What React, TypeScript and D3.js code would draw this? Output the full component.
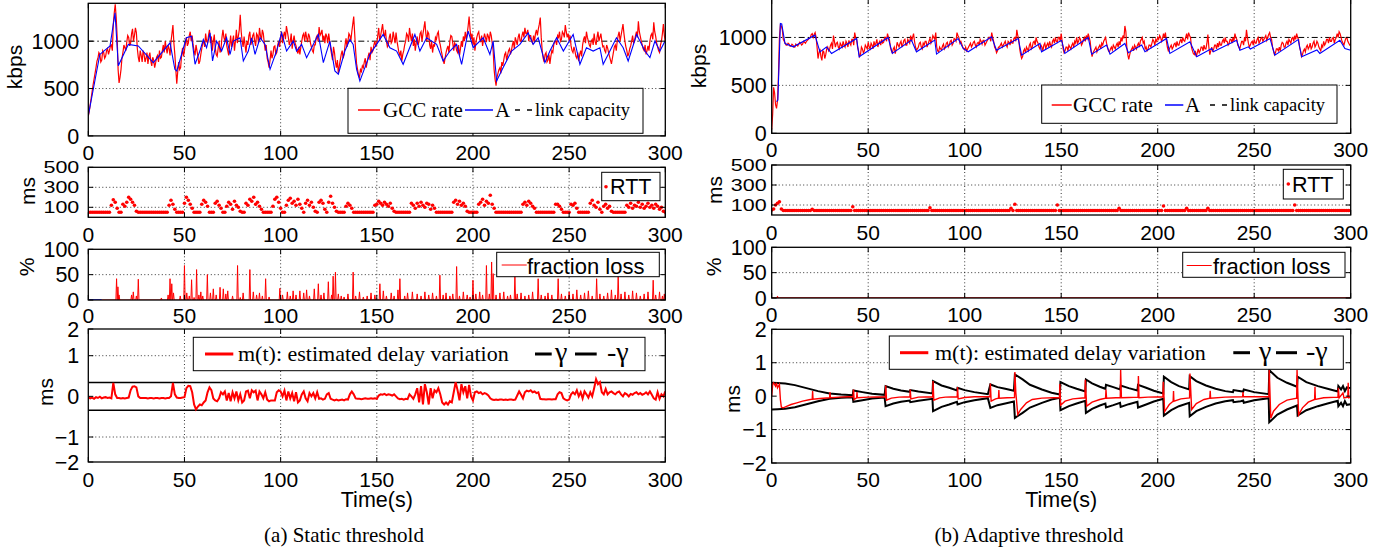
import React from "react";
import * as d3 from "d3";

type Pt = [number, number];

// ---------------- data ----------------
const timeTicks = [0, 50, 100, 150, 200, 250, 300];
const rateTicks = [0, 500, 1000];
const rttTicks = [100, 300, 500];
const lossTicks = [0, 50, 100];
const mtTicks = [-2, -1, 0, 1, 2];
const linkCapacity = 1000;
const staticGamma = 0.34;
const STEP = 1; // seconds between samples (RTT, m(t))
const RATE_STEP = 0.5; // seconds between GCC-rate samples

// (a) static threshold: GCC rate (kbps), one value per half second
const staticRate = [
  210, 260, 330, 400, 470, 540, 600, 660, 720, 790, 820, 880, 860, 780, 800, 900, 880, 820, 840, 900,
  920, 860, 900, 950, 960, 900, 1180, 1300, 1390, 1250, 1050, 700, 560, 620, 700, 820, 880, 960, 930, 900,
  990, 1060, 1040, 950, 980, 1080, 1130, 1000, 1060, 1140, 1090, 920, 830, 780, 900, 850, 780, 900, 860, 780,
  820, 880, 760, 840, 880, 790, 740, 830, 800, 720, 770, 830, 850, 780, 900, 820, 830, 900, 960, 880,
  1000, 930, 870, 960, 920, 850, 1000, 1080, 1170, 980, 860, 700, 550, 680, 780, 700, 720, 850, 930, 840,
  900, 980, 1040, 950, 980, 1060, 1100, 1000, 1060, 960, 900, 850, 960, 900, 840, 760, 790, 860, 920, 980,
  1000, 940, 1080, 1000, 980, 1060, 1120, 980, 1050, 900, 1000, 1070, 930, 860, 840, 920, 1000, 880, 920, 1040,
  1120, 1040, 1000, 1080, 950, 900, 850, 960, 1060, 940, 1000, 1060, 900, 1000, 1120, 980, 1050, 1120, 1280, 1100,
  1000, 940, 1050, 960, 880, 1000, 960, 1060, 1100, 960, 1000, 1060, 1080, 1000, 950, 1080, 1060, 980, 1140, 1060,
  1010, 1120, 1080, 980, 900, 960, 820, 780, 720, 800, 900, 820, 860, 940, 950, 860, 880, 960, 1000, 940,
  1050, 1100, 980, 1060, 1100, 1020, 1160, 1100, 1040, 960, 1000, 1080, 920, 1000, 1060, 980, 950, 900, 870, 940,
  860, 940, 1000, 1060, 1080, 1000, 1100, 1040, 990, 1080, 1050, 980, 940, 900, 880, 960, 960, 1040, 1060, 1000,
  1150, 1060, 1080, 1120, 1000, 1060, 980, 1080, 1050, 980, 1080, 1000, 920, 860, 800, 940, 880, 780, 720, 800,
  660, 740, 800, 860, 900, 820, 860, 960, 1030, 940, 1000, 1080, 1060, 1000, 1100, 1180, 1260, 1080, 900, 760,
  700, 640, 620, 700, 680, 740, 720, 780, 820, 720, 780, 840, 880, 800, 940, 880, 900, 960, 1000, 940,
  980, 1060, 1140, 1000, 1060, 1120, 1180, 1080, 1050, 1120, 1000, 940, 960, 1040, 1080, 980, 1000, 1100, 1040, 980,
  1090, 1000, 940, 880, 850, 900, 790, 860, 900, 960, 1000, 1080, 1060, 1000, 1140, 1060, 1000, 1080, 950, 1020,
  900, 980, 1050, 960, 1000, 1080, 1100, 1000, 1080, 1140, 1210, 1080, 1000, 1100, 1080, 960, 920, 1000, 880, 960,
  950, 1040, 1020, 1080, 1100, 1000, 960, 900, 850, 800, 760, 820, 880, 920, 950, 880, 1000, 1060, 1050, 980,
  900, 980, 960, 900, 880, 960, 850, 920, 1000, 940, 1050, 1000, 1100, 1020, 1080, 1160, 1260, 1120, 1020, 1080,
  960, 1040, 900, 980, 1040, 1080, 1100, 1020, 1000, 1060, 950, 1020, 1080, 1040, 990, 1080, 1050, 1000, 1100, 1060,
  980, 900, 700, 600, 530, 620, 660, 700, 720, 660, 780, 740, 800, 860, 880, 800, 850, 900, 920, 860,
  900, 960, 1000, 920, 1040, 1000, 960, 1040, 1080, 1000, 1000, 1060, 1100, 1040, 1140, 1080, 1080, 1120, 1000, 1060,
  1060, 1000, 980, 1060, 1000, 1080, 1120, 1060, 1130, 1180, 1250, 1040, 900, 820, 780, 860, 880, 780, 800, 860,
  760, 840, 900, 880, 960, 1000, 1000, 960, 1060, 1040, 1100, 1000, 1020, 1100, 1080, 1040, 1170, 1100, 1040, 1080,
  1000, 1060, 950, 900, 880, 940, 900, 840, 820, 880, 790, 860, 900, 840, 960, 1020, 1050, 980, 1100, 1040,
  1000, 960, 940, 1000, 1020, 960, 1080, 1000, 960, 1040, 1100, 1000, 1040, 1080, 1000, 940, 950, 900, 880, 960,
  930, 880, 840, 800, 760, 820, 880, 940, 960, 900, 1000, 1060, 1100, 1000, 1060, 1120, 1180, 1080, 1000, 940,
  900, 840, 870, 920, 950, 1000, 1060, 980, 1000, 1060, 1100, 1040, 1210, 1100, 1050, 1000, 960, 920, 900, 960,
  860, 900, 950, 900, 1000, 1060, 1080, 1020, 1200, 1100, 1050, 980, 940, 900, 880, 960, 1000, 1080, 1180, 1060,
  1000,
];

// (a) A (kbps) as [time, value]
const staticA: Pt[] = [
  [0, 213], [6, 860], [11.3, 950], [13.9, 1300], [15.6, 740], [20.8, 966], [26, 950], [33.8, 773],
  [42.5, 983], [45, 703], [46, 686], [51, 1036], [53.7, 1053], [55.5, 756], [58, 896], [59.8, 1018],
  [61.5, 931], [63.3, 1088], [64.6, 791], [66.7, 1001], [69.3, 896], [71.9, 1036], [73.7, 861],
  [75.4, 1001], [78.9, 1036], [80.6, 791], [83.2, 896], [84.9, 1036], [86.7, 861], [89.3, 1036],
  [91.9, 966], [94.5, 703], [97.9, 896], [100.5, 1088], [103.1, 896], [106.6, 1001], [108.3, 896],
  [110.9, 966], [113.5, 826], [116.1, 931], [119.6, 1071], [122.2, 773], [125.6, 1000], [128.2, 686],
  [130, 651], [133.4, 896], [136, 1018], [137.7, 966], [139.5, 703], [141.2, 581], [143.8, 721],
  [146.4, 861], [149.9, 966], [153.3, 1071], [156.8, 931], [160.3, 896], [163.7, 756], [169.8, 1071],
  [172.4, 896], [175.9, 1036], [181.1, 966], [184.5, 791], [188, 896], [191.5, 966], [194.1, 756],
  [197.5, 1106], [200.1, 931], [205.3, 1036], [208.8, 861], [210.5, 1001], [212.3, 581], [215.7, 721],
  [220.1, 896], [224.4, 966], [228.7, 1088], [231.3, 966], [233.9, 1036], [237.4, 773], [240, 896],
  [243.5, 1036], [247, 896], [252.1, 1071], [255.6, 756], [259, 931], [262.5, 896], [266, 931],
  [267.7, 756], [271.2, 896], [274.6, 1036], [278.1, 931], [280.7, 791], [285.1, 1071], [289.4, 896],
  [292, 826], [294.6, 1001], [297.2, 896], [299.8, 1000],
];

// (a) RTT (ms), one value per second
const staticRtt = [
  50, 50, 50, 50, 50, 50, 50, 50, 50, 50,
  50, 50, 120, 175, 150, 90, 50, 50, 130, 110,
  150, 200, 180, 150, 120, 60, 50, 50, 50, 50,
  50, 50, 50, 50, 50, 50, 50, 50, 50, 50,
  50, 50, 120, 170, 130, 80, 50, 50, 50, 50,
  140, 200, 170, 130, 90, 50, 50, 50, 50, 130,
  170, 150, 110, 50, 50, 50, 140, 160, 120, 90,
  50, 50, 110, 150, 130, 80, 160, 120, 100, 60,
  50, 50, 140, 120, 180, 160, 200, 130, 150, 110,
  80, 50, 50, 50, 50, 50, 110, 180, 200, 150,
  90, 50, 50, 120, 170, 190, 140, 160, 120, 180,
  130, 90, 50, 140, 170, 120, 150, 100, 60, 50,
  150, 170, 140, 80, 50, 150, 210, 140, 100, 60,
  50, 50, 50, 50, 110, 140, 120, 90, 50, 50,
  50, 50, 50, 50, 50, 50, 50, 50, 50, 120,
  130, 160, 140, 120, 150, 130, 110, 140, 90, 60,
  50, 50, 50, 50, 50, 50, 50, 50, 140, 120,
  90, 140, 110, 150, 120, 100, 140, 130, 80, 120,
  90, 50, 50, 50, 50, 50, 50, 50, 50, 50,
  150, 170, 130, 160, 120, 140, 110, 60, 50, 50,
  50, 50, 50, 130, 150, 180, 120, 160, 140, 220,
  130, 90, 50, 50, 50, 50, 50, 50, 50, 50,
  50, 50, 50, 50, 50, 50, 130, 150, 120, 160,
  140, 110, 90, 50, 50, 50, 50, 50, 50, 50,
  50, 50, 50, 130, 130, 110, 80, 50, 50, 50,
  50, 130, 120, 140, 90, 50, 50, 50, 50, 50,
  50, 140, 170, 120, 100, 150, 80, 50, 110, 130,
  90, 110, 60, 50, 50, 50, 50, 50, 50, 50,
  120, 100, 140, 90, 120, 110, 150, 100, 130, 90,
  110, 140, 100, 120, 90, 130, 110, 80, 100, 60,
  50,
];

// (a) fraction loss (%): spikes as [time, peak]
const staticLossSpikes: Pt[] = [
  [14.7, 42], [15.4, 26], [16, 10], [22.5, 10], [23.4, 16], [25, 8], [26, 41], [38, 4], [41.5, 10],
  [42.5, 42], [43.4, 32], [44.3, 14], [47.8, 8], [50, 68], [51.2, 14], [52.5, 8], [53.7, 40], [55, 5],
  [56.3, 60], [57.5, 10], [58.5, 16], [59.5, 8], [61.9, 50], [63.5, 14], [65, 22], [66.5, 10], [68.5, 25],
  [70.2, 22], [71.5, 12], [72.5, 18], [75, 8], [77.6, 68], [79, 5], [80.5, 14], [84, 60], [85.8, 16],
  [87.5, 10], [89, 14], [90.5, 8], [92.2, 42], [94, 6], [99.6, 23], [101, 10], [103.5, 16], [105, 8],
  [106.5, 18], [108, 10], [110, 18], [112, 14], [113.5, 20], [115, 8], [117.5, 22], [119.6, 32],
  [121, 10], [122.5, 14], [124.8, 36], [126.5, 10], [127.3, 47], [128.5, 55], [130, 12], [131.5, 8],
  [133, 6], [135, 12], [137.7, 55], [139, 8], [141, 16], [143, 6], [145, 8], [147, 14], [149, 10],
  [151.6, 32], [153.4, 18], [155, 8], [157.5, 14], [159, 8], [161, 20], [162, 42], [164.5, 8],
  [166, 14], [168.5, 16], [171, 12], [173, 8], [175, 16], [177, 10], [179, 14], [181, 8], [182.8, 49],
  [184.5, 10], [186, 14], [188, 8], [189.5, 12], [191.5, 66], [193, 8], [195, 16], [197, 10],
  [198.5, 6], [200, 39], [201.5, 12], [203.5, 16], [205, 10], [207, 68], [208.5, 12], [209.7, 75],
  [210.5, 52], [212, 10], [214, 14], [216, 16], [218, 8], [219.5, 10], [221.8, 49], [223, 12],
  [225, 14], [227, 8], [229, 10], [231, 16], [233.9, 42], [235.5, 10], [237.5, 8], [239, 14],
  [241, 10], [244.3, 42], [246, 12], [248, 8], [250, 16], [252, 12], [254, 20], [256, 10], [258, 14],
  [260, 18], [262, 8], [264.3, 42], [266, 12], [268, 8], [270, 14], [272, 20], [274, 10], [275.5, 49],
  [277, 12], [279, 16], [281, 10], [283, 18], [285, 14], [287, 8], [289, 12], [291, 16], [293.7, 39],
  [295, 10], [297, 16], [298.5, 8], [299.5, 12],
];
const staticLossStart = 7; // red loss trace starts here; before it the blue trace sits at 0

// (a) m(t) (ms), one value per second
const staticMt = [
  -0.02, -0.05, -0.03, -0.06, -0.02, -0.04, -0.01, -0.05, -0.03, -0.02,
  -0.04, -0.03, -0.05, 0.33, 0.05, -0.04, -0.04, -0.05, -0.04, -0.05,
  -0.04, -0.03, 0.15, 0.24, 0.25, 0.22, 0.0, -0.04, -0.04, -0.04,
  -0.04, -0.05, -0.04, -0.04, -0.05, -0.04, -0.04, -0.05, -0.04, -0.04,
  -0.05, -0.04, -0.04, 0.0, 0.33, 0.05, -0.03, -0.04, -0.04, -0.03,
  -0.02, 0.2, 0.26, 0.25, 0.1, -0.2, -0.32, -0.25, -0.2, -0.22,
  -0.15, -0.1, 0.1, 0.22, 0.15, -0.05, -0.1, -0.12, -0.05, 0.1,
  0.05, 0.12, -0.1, 0.08, -0.12, 0.1, -0.05, 0.12, -0.1, 0.05,
  -0.15, -0.1, 0.12, 0.14, -0.05, 0.15, 0.1, 0.14, -0.1, 0.12,
  0.05, -0.05, 0.1, -0.08, -0.12, -0.1, -0.1, -0.1, 0.1, 0.15,
  0.12, 0.0, 0.14, -0.1, 0.12, -0.05, 0.08, -0.12, 0.1, -0.15,
  -0.1, 0.05, 0.12, -0.05, -0.12, 0.08, 0.0, 0.08, -0.05, 0.1,
  -0.06, -0.05, -0.08, -0.06, 0.05, 0.08, -0.06, -0.08, -0.1, -0.08,
  -0.1, -0.09, -0.08, -0.1, -0.07, -0.08, 0.05, 0.12, 0.05, -0.05,
  -0.06, -0.06, -0.07, -0.06, -0.05, -0.06, -0.06, -0.05, -0.06, -0.05,
  -0.06, 0.02, 0.05, 0.04, 0.06, 0.03, 0.05, 0.04, 0.02, 0.05,
  0.0, -0.05, -0.07, -0.06, -0.08, -0.06, -0.07, 0.05, 0.0, -0.06,
  0.05, 0.2, -0.15, 0.25, -0.2, 0.3, 0.1, -0.2, 0.2, -0.05,
  0.15, 0.1, 0.2, 0.05, -0.15, -0.2, -0.15, -0.2, -0.12, -0.15,
  0.1, 0.35, 0.15, -0.1, 0.3, 0.1, 0.25, -0.05, 0.28, 0.0,
  -0.1, 0.1, 0.12, 0.08, 0.1, 0.05, 0.08, 0.06, 0.02, -0.05,
  -0.08, -0.09, -0.08, -0.09, -0.08, -0.08, -0.09, -0.08, -0.09, -0.08,
  -0.08, -0.09, -0.08, 0.02, 0.12, 0.04, -0.05, 0.1, 0.14, 0.12,
  0.15, 0.1, 0.12, 0.08, 0.1, -0.06, -0.07, -0.07, -0.08, -0.07,
  -0.07, -0.08, -0.07, -0.07, 0.05, 0.1, 0.08, -0.05, -0.08, -0.1,
  -0.08, 0.05, 0.1, 0.05, 0.15, 0.0, 0.1, -0.05, 0.12, 0.05,
  -0.03, 0.1, 0.0, 0.2, 0.42, 0.3, 0.35, 0.1, 0.05, 0.18,
  0.05, 0.1, 0.12, 0.08, 0.05, 0.1, 0.12, 0.05, 0.0, 0.08,
  0.05, 0.0, 0.06, 0.04, 0.08, 0.1, 0.05, 0.08, 0.04, 0.06,
  0.1, 0.05, 0.12, 0.04, -0.05, -0.08, 0.1, -0.06, 0.05, 0.0,
  0.12,
];

// (b) adaptive threshold: GCC rate (kbps), one value per half second
const adaptiveRate = [
  40, 200, 480, 420, 300, 260, 340, 600, 1000, 1130, 1120, 1080, 980, 960, 940, 920, 920, 940, 930, 910,
  910, 930, 920, 900, 900, 930, 920, 910, 930, 950, 940, 920, 930, 960, 950, 940, 960, 970, 980, 990,
  1000, 1030, 1040, 1000, 1030, 1050, 1000, 900, 780, 840, 880, 800, 760, 860, 850, 780, 820, 880, 900, 860,
  880, 920, 940, 880, 1020, 960, 900, 940, 950, 900, 880, 940, 920, 900, 960, 920, 900, 960, 940, 900,
  970, 940, 920, 980, 980, 920, 1050, 1000, 980, 900, 860, 800, 820, 900, 880, 840, 860, 920, 900, 880,
  950, 900, 880, 940, 920, 880, 960, 920, 940, 980, 900, 940, 960, 920, 980, 940, 950, 1000, 1000, 960,
  1040, 1000, 980, 900, 860, 840, 880, 900, 830, 880, 950, 920, 900, 940, 960, 900, 930, 970, 980, 920,
  920, 980, 960, 940, 1020, 960, 1000, 1040, 960, 900, 870, 880, 900, 940, 950, 900, 880, 940, 920, 960,
  960, 900, 930, 960, 990, 940, 970, 1020, 1000, 980, 1050, 900, 860, 850, 900, 880, 870, 910, 930, 880,
  900, 940, 950, 900, 920, 960, 970, 920, 940, 990, 980, 960, 1050, 1020, 1000, 940, 960, 930, 900, 880,
  870, 900, 860, 880, 900, 920, 940, 900, 920, 950, 960, 920, 900, 940, 950, 920, 980, 960, 930, 970,
  970, 920, 940, 960, 980, 1000, 1000, 960, 1050, 1000, 960, 900, 880, 840, 860, 900, 900, 920, 940, 900,
  920, 940, 960, 920, 900, 960, 950, 920, 980, 940, 940, 990, 1000, 960, 1080, 1020, 980, 880, 820, 780,
  800, 860, 880, 840, 900, 880, 860, 920, 940, 880, 900, 950, 960, 920, 1000, 960, 940, 900, 880, 920,
  900, 860, 920, 940, 880, 920, 940, 900, 960, 920, 900, 960, 980, 940, 1000, 960, 950, 1000, 1000, 960,
  1040, 960, 880, 840, 860, 900, 900, 860, 920, 900, 880, 920, 940, 900, 960, 940, 1000, 940, 960, 1000,
  980, 920, 940, 980, 1000, 960, 1020, 990, 1040, 1000, 960, 860, 800, 840, 860, 880, 900, 850, 880, 900,
  920, 880, 940, 920, 960, 980, 1000, 940, 900, 860, 850, 880, 900, 870, 920, 900, 880, 920, 940, 900,
  960, 920, 1000, 960, 1020, 990, 1120, 1060, 900, 820, 770, 820, 860, 880, 900, 860, 920, 900, 880, 920,
  940, 900, 960, 980, 1000, 940, 960, 880, 900, 860, 880, 920, 920, 900, 940, 980, 960, 920, 980, 960,
  1000, 980, 1020, 1000, 960, 990, 1040, 1000, 1050, 960, 900, 860, 880, 900, 920, 880, 900, 930, 940, 900,
  960, 920, 920, 960, 980, 940, 1000, 970, 960, 1000, 1040, 980, 1050, 1020, 1000, 900, 860, 830, 820, 860,
  800, 840, 880, 840, 860, 900, 900, 860, 920, 880, 880, 940, 1030, 900, 820, 860, 900, 860, 880, 920,
  920, 880, 940, 900, 960, 920, 920, 960, 980, 940, 1000, 960, 960, 920, 940, 980, 980, 940, 1000, 960,
  1040, 1000, 980, 920, 900, 880, 920, 960, 960, 920, 1000, 960, 1080, 1000, 940, 900, 920, 950, 960, 920,
  980, 940, 940, 980, 1000, 940, 960, 990, 1000, 960, 980, 1000, 1020, 970, 1000, 1030, 1050, 1000, 980, 900,
  860, 820, 840, 880, 880, 860, 900, 860, 920, 950, 940, 900, 900, 940, 960, 920, 980, 960, 940, 990,
  1000, 960, 1020, 980, 1040, 1000, 980, 900, 860, 800, 820, 860, 880, 850, 900, 920, 880, 900, 940, 880,
  900, 940, 960, 900, 920, 960, 940, 900, 880, 860, 920, 900, 960, 920, 940, 980, 980, 940, 1000, 960,
  960, 990, 1000, 940, 980, 1000, 1040, 1000, 1060, 1040, 1000, 960, 940, 920, 960, 990, 1000, 960, 940, 920,
  930,
];

// (b) A (kbps) as [time, value]
const adaptiveA: Pt[] = [
  [2.5, 330], [3.2, 347], [4.5, 1145], [5.2, 1140], [6.9, 937], [11.2, 902], [22.4, 1024], [25, 850],
  [28.4, 900], [31, 833], [44, 989], [45.3, 798], [60.3, 1000], [62.5, 833], [72.4, 972], [75, 850],
  [84.5, 972], [85.4, 826], [96.6, 989], [99.2, 885], [101.8, 850], [113.9, 1006], [116.5, 867],
  [127.7, 989], [129.5, 815], [139, 937], [139.8, 850], [150.2, 971], [151.9, 833], [164, 1000],
  [165.8, 826], [173.5, 920], [175.3, 826], [183, 937], [184.8, 840], [191.7, 920], [193.4, 850],
  [204.6, 989], [206.3, 833], [216.7, 954], [220.2, 798], [228, 885], [228.8, 850], [240.9, 971],
  [242.6, 867], [247, 902], [248, 880], [258.2, 989], [260.7, 815], [272.8, 978], [274.6, 798],
  [282.5, 870], [284, 833], [294.4, 971], [297, 885], [300, 867],
];

// (b) RTT (ms), one value per second
const adaptiveRtt = [
  50, 60, 100, 118, 132, 60, 45, 45, 45, 45,
  45, 45, 45, 45, 45, 45, 45, 45, 45, 45,
  45, 57, 45, 45, 45, 45, 45, 45, 45, 45,
  45, 45, 45, 45, 45, 45, 45, 45, 45, 45,
  45, 45, 83, 45, 45, 45, 45, 45, 45, 45,
  45, 45, 45, 45, 45, 45, 45, 45, 45, 45,
  45, 45, 45, 45, 45, 45, 45, 45, 45, 45,
  45, 45, 45, 45, 45, 45, 45, 45, 45, 45,
  45, 45, 73, 45, 45, 45, 45, 45, 45, 45,
  45, 45, 45, 45, 45, 45, 45, 45, 45, 45,
  45, 45, 45, 45, 45, 45, 45, 45, 45, 45,
  45, 45, 45, 45, 45, 45, 45, 45, 45, 45,
  45, 45, 45, 45, 67, 45, 107, 45, 45, 45,
  45, 45, 45, 45, 45, 45, 45, 45, 45, 45,
  45, 45, 45, 45, 45, 45, 45, 45, 100, 45,
  45, 45, 45, 45, 45, 45, 45, 45, 45, 45,
  45, 45, 45, 45, 45, 45, 45, 45, 45, 45,
  45, 45, 45, 45, 45, 45, 45, 45, 45, 45,
  67, 45, 45, 45, 45, 45, 45, 45, 45, 45,
  45, 45, 45, 45, 45, 45, 45, 45, 45, 45,
  45, 45, 45, 90, 45, 45, 45, 45, 45, 45,
  45, 45, 45, 45, 45, 67, 45, 45, 45, 45,
  45, 45, 45, 45, 45, 45, 67, 45, 45, 45,
  45, 45, 45, 45, 45, 45, 45, 45, 45, 45,
  45, 45, 45, 45, 45, 45, 45, 45, 45, 45,
  45, 45, 45, 45, 45, 45, 45, 45, 45, 45,
  45, 45, 45, 45, 45, 45, 45, 45, 45, 45,
  45, 100, 45, 45, 45, 45, 45, 45, 45, 45,
  45, 45, 45, 45, 45, 45, 45, 45, 45, 45,
  45, 45, 45, 45, 45, 45, 45, 45, 45, 45,
  45,
];

// (b) fraction loss (%): spikes as [time, peak]
const adaptiveLossSpikes: Pt[] = [[3, 2]];

// (b) adaptive threshold gamma(t) (ms) as [time, value]; the lower curve is -gamma
const adaptiveGamma: Pt[] = [
  [0, 0.4], [3, 0.39], [7, 0.38], [12, 0.33], [18, 0.24], [24, 0.15], [30, 0.08], [36, 0.05], [42, 0.03],
  [42.3, 0.17], [47, 0.12], [52, 0.07], [58.5, 0.04],
  [59, 0.3], [63, 0.22], [67, 0.17], [71.5, 0.13],
  [71.8, 0.18], [76, 0.14], [83.3, 0.08],
  [83.6, 0.45], [88, 0.32], [92, 0.25], [96, 0.17],
  [96.3, 0.25], [100, 0.18], [105, 0.12], [112, 0.06],
  [113.3, 0.35], [117, 0.27], [121, 0.22], [125.5, 0.16],
  [126, 0.65], [130, 0.5], [133.8, 0.34], [140, 0.2], [145, 0.1], [149.3, 0.05],
  [149.6, 0.42], [154, 0.3], [158, 0.22], [162.5, 0.14],
  [162.8, 0.5], [166, 0.38], [170, 0.28], [172.9, 0.22],
  [173.2, 0.34], [177, 0.27], [180.5, 0.2],
  [180.8, 0.32], [185, 0.24], [189.5, 0.17],
  [189.8, 0.34], [194, 0.25], [198, 0.16], [202.9, 0.08],
  [203.2, 0.58], [207, 0.42], [211, 0.3], [216.3, 0.2],
  [216.6, 0.6], [220, 0.45], [225, 0.32], [230, 0.22], [235, 0.15], [239, 0.12],
  [239.3, 0.18], [243, 0.15], [244.3, 0.13], [244.6, 0.2], [250, 0.12], [257.5, 0.06],
  [257.8, 0.78], [262, 0.55], [267, 0.4], [272.2, 0.28],
  [272.5, 0.58], [277, 0.42], [283, 0.3], [288, 0.22], [293.3, 0.14],
  [293.6, 0.3], [295, 0.2], [296, 0.3], [297, 0.15], [298, 0.26], [300, 0.24],
];

// (b) m(t) (ms) as [time, value]
const adaptiveMt: Pt[] = [
  [0, 0.0], [0.5, 0.35], [1, 0.4], [2, 0.3], [2.5, 0.4], [3, 0.25], [4, 0.35], [4.5, -0.1], [5, -0.33],
  [6, -0.35], [8, -0.3], [10, -0.25], [13, -0.2], [16, -0.15], [20, -0.1], [21, -0.09], [21.2, 0.15],
  [21.4, -0.09], [25, -0.07], [30, -0.05], [30.2, 0.12], [30.4, -0.05], [35, -0.03], [40, -0.02],
  [42.2, -0.02], [42.4, 0.2], [42.7, -0.1], [44, -0.05], [44.2, 0.12], [44.4, -0.05], [50, -0.03],
  [58.9, -0.02], [59.1, 0.32], [59.5, -0.12], [62, -0.06], [66, -0.03], [71.6, -0.02], [71.8, 0.2],
  [72.1, -0.08], [76, -0.03], [83.4, -0.02], [83.6, 0.45], [84, -0.12], [87, -0.05], [90, -0.03],
  [96.1, -0.02], [96.3, 0.27], [96.6, -0.08], [100, -0.04], [105, -0.02], [113.1, -0.02], [113.3, 0.38],
  [113.7, -0.15], [116, -0.08], [117.5, -0.06], [117.7, 0.18], [117.9, -0.06], [122, -0.05],
  [125.8, -0.04], [126, 0.72], [126.5, 0.1], [127.5, -0.55], [129, -0.4], [132, -0.2], [135, -0.1],
  [140, -0.06], [149.1, -0.04], [149.3, 0.36], [149.7, -0.27], [152, -0.15], [156, -0.08],
  [162.3, -0.05], [162.5, 0.49], [163.2, -0.3], [166, -0.18], [170, -0.1], [173, -0.06], [173.2, 0.2],
  [173.5, -0.06], [180.6, -0.04], [180.8, 0.78], [181.2, -0.05], [185, -0.04], [189.8, -0.03],
  [190, 0.6], [190.3, -0.05], [195, -0.03], [202.7, -0.02], [202.9, 0.43], [203.6, -0.46], [206, -0.25],
  [208, -0.15], [208.2, 0.15], [208.4, -0.15], [212, -0.08], [216.5, -0.05], [216.7, 0.68],
  [217.6, -0.4], [220, -0.22], [224, -0.1], [227, -0.06], [227.2, 0.16], [227.4, -0.06], [235, -0.03],
  [244, -0.02], [244.2, 0.12], [244.4, -0.02], [250, -0.02], [257.6, -0.02], [257.8, 0.78],
  [258.6, -0.66], [260, -0.45], [263, -0.25], [267, -0.12], [272, -0.06], [272.2, 0.78], [273, -0.56],
  [275, -0.35], [278, -0.18], [281.3, -0.1], [281.5, 0.28], [281.7, -0.1], [286, -0.05], [293.4, -0.03],
  [293.6, 0.25], [294, -0.05], [296, 0.1], [296.5, -0.05], [298.5, -0.03], [298.7, 0.4], [299, -0.05],
  [300, -0.03],
];

// ---------------- drawing ----------------
const SANS = "'Liberation Sans', Arial, Helvetica, sans-serif";
const SERIF = "'Liberation Serif', 'Times New Roman', serif";
const RED = "#ff0000";
const BLUE = "#0000ff";

type Lin = d3.ScaleLinear<number, number>;

interface PanelProps {
  id: string;
  x: Lin;
  y: Lin;
  yTicks: number[];
  gridY: number[];
  xLabelBaseline: number;
  labelGap: number;
  labelSquash?: number;
  children?: React.ReactNode;
}

const fmt = (v: number) => (v < 0 ? "\u2212" + Math.abs(v) : String(v));

function Panel({ id, x, y, yTicks, gridY, xLabelBaseline, labelGap, labelSquash = 1, children }: PanelProps) {
  const [x0, x1] = x.range();
  const yr = y.range();
  const top = Math.min(...yr);
  const bottom = Math.max(...yr);
  const tl = 5;
  return (
    <g>
      <defs>
        <clipPath id={id}>
          <rect x={x0} y={top} width={x1 - x0} height={bottom - top} />
        </clipPath>
      </defs>
      <rect x={x0} y={top} width={x1 - x0} height={bottom - top} fill="#fff" />
      {timeTicks.slice(1, -1).map((t) => (
        <line key={"gx" + t} x1={x(t)} x2={x(t)} y1={top} y2={bottom} stroke="#000" strokeWidth={0.8} strokeDasharray="1,2.5" />
      ))}
      {gridY.map((v) => (
        <line key={"gy" + v} x1={x0} x2={x1} y1={y(v)} y2={y(v)} stroke="#000" strokeWidth={0.8} strokeDasharray="1,2.5" />
      ))}
      <g clipPath={`url(#${id})`}>{children}</g>
      {timeTicks.map((t) => (
        <g key={"tx" + t}>
          <line x1={x(t)} x2={x(t)} y1={bottom} y2={bottom - tl} stroke="#000" strokeWidth={1} />
          <line x1={x(t)} x2={x(t)} y1={top} y2={top + tl} stroke="#000" strokeWidth={1} />
        </g>
      ))}
      {yTicks.map((v) => (
        <g key={"ty" + v}>
          <line x1={x0} x2={x0 + tl} y1={y(v)} y2={y(v)} stroke="#000" strokeWidth={1} />
          <line x1={x1} x2={x1 - tl} y1={y(v)} y2={y(v)} stroke="#000" strokeWidth={1} />
        </g>
      ))}
      <rect x={x0} y={top} width={x1 - x0} height={bottom - top} fill="none" stroke="#000" strokeWidth={1.3} />
      {timeTicks.map((t) => (
        <text key={"lx" + t} x={x(t)} y={xLabelBaseline} textAnchor="middle" fontFamily={SANS} fontSize={21} fill="#000">
          {t}
        </text>
      ))}
      {yTicks.map((v) => (
        <text
          key={"ly" + v}
          transform={`translate(${x0 - labelGap},${y(v)}) scale(1,${labelSquash})`}
          dy="0.36em"
          textAnchor="end"
          fontFamily={SANS}
          fontSize={21.5}
          fill="#000"
        >
          {fmt(v)}
        </text>
      ))}
    </g>
  );
}

function sampled(vals: number[], step: number): Pt[] {
  return vals.map((v, i) => [i * step, v] as Pt);
}

function spikePoints(spikes: Pt[], start: number, end: number): Pt[] {
  const pts: Pt[] = [[start, 0]];
  spikes.forEach(([t, v]) => {
    pts.push([t - 0.35, 0], [t, v], [t + 0.35, 0]);
  });
  pts.push([end, 0]);
  return pts;
}

function YLabel({ x, y, text }: { x: number; y: number; text: string }) {
  return (
    <text transform={`translate(${x},${y}) rotate(-90)`} textAnchor="middle" fontFamily={SANS} fontSize={21} fill="#000">
      {text}
    </text>
  );
}

interface ColumnGeom {
  x: Lin;
  rateY: Lin;
  rttY: Lin;
  lossY: Lin;
  mtY: Lin;
  xlab: [number, number, number, number];
  gap: number;
}

export default function App() {
  const xL = d3.scaleLinear().domain([0, 300]).range([88.3, 665.3]);
  const xR = d3.scaleLinear().domain([0, 300]).range([771.7, 1350.7]);

  const L: ColumnGeom = {
    x: xL,
    rateY: d3.scaleLinear().domain([0, 1400]).range([135.9, 3.3]),
    rttY: d3.scaleLinear().domain([0, 500]).range([217.3, 167.3]),
    lossY: d3.scaleLinear().domain([0, 100]).range([300, 249.3]),
    mtY: d3.scaleLinear().domain([-2, -1, 1, 2]).range([462, 437, 355.7, 329]),
    xlab: [159.5, 241.5, 323, 486.5],
    gap: 9,
  };
  const R: ColumnGeom = {
    x: xR,
    rateY: d3.scaleLinear().domain([0, 1400]).range([133.3, -0.9]),
    rttY: d3.scaleLinear().domain([0, 500]).range([215, 165]),
    lossY: d3.scaleLinear().domain([0, 100]).range([298, 247.3]),
    mtY: d3.scaleLinear().domain([-2, 2]).range([463, 329.3]),
    xlab: [156.5, 240, 321.5, 486.5],
    gap: 5,
  };

  const line = (x: Lin, y: Lin) =>
    d3
      .line<Pt>()
      .x((d) => x(d[0]))
      .y((d) => y(d[1]));

  const staticRatePts = sampled(staticRate, RATE_STEP);
  const adaptiveRatePts = sampled(adaptiveRate, RATE_STEP);
  const staticMtPts = sampled(staticMt, STEP);

  const rttDots = (col: ColumnGeom, vals: number[], key: string) =>
    sampled(vals, STEP).map(([t, v], i) => <circle key={key + i} cx={col.x(t)} cy={col.rttY(v)} r={1.8} fill={RED} />);

  const capacityLine = (col: ColumnGeom) => (
    <line
      x1={col.x(0)}
      x2={col.x(300)}
      y1={col.rateY(linkCapacity)}
      y2={col.rateY(linkCapacity)}
      stroke="#000"
      strokeWidth={1}
      strokeDasharray="6,3,1.5,3"
    />
  );

  return (
    <div style={{ position: "absolute", left: 0, top: 0 }}>
      <svg width={1392} height={554} viewBox="0 0 1392 554" style={{ display: "block", background: "#fff" }}>
        <rect x={0} y={0} width={1392} height={554} fill="#fff" />

        {/* ===== (a) static ===== */}
        <Panel id="cL1" x={L.x} y={L.rateY} yTicks={rateTicks} gridY={[500]} xLabelBaseline={L.xlab[0]} labelGap={L.gap}>
          {capacityLine(L)}
          <path d={line(L.x, L.rateY)(staticRatePts) || ""} fill="none" stroke={RED} strokeWidth={1.2} />
          <path d={line(L.x, L.rateY)(staticA) || ""} fill="none" stroke={BLUE} strokeWidth={1.1} />
        </Panel>
        <Panel id="cL2" x={L.x} y={L.rttY} yTicks={rttTicks} gridY={[100, 300]} xLabelBaseline={L.xlab[1]} labelGap={L.gap} labelSquash={0.8}>
          {rttDots(L, staticRtt, "rl")}
        </Panel>
        <Panel id="cL3" x={L.x} y={L.lossY} yTicks={lossTicks} gridY={[50]} xLabelBaseline={L.xlab[2]} labelGap={L.gap}>
          <path d={line(L.x, L.lossY)([[0, 0], [staticLossStart, 0]]) || ""} fill="none" stroke={BLUE} strokeWidth={1.5} />
          <path d={line(L.x, L.lossY)(spikePoints(staticLossSpikes, staticLossStart, 300)) || ""} fill="none" stroke={RED} strokeWidth={1} />
        </Panel>
        <Panel id="cL4" x={L.x} y={L.mtY} yTicks={mtTicks} gridY={[-1, 1]} xLabelBaseline={L.xlab[3]} labelGap={L.gap}>
          <line x1={L.x(0)} x2={L.x(300)} y1={L.mtY(staticGamma)} y2={L.mtY(staticGamma)} stroke="#000" strokeWidth={1.5} />
          <line x1={L.x(0)} x2={L.x(300)} y1={L.mtY(-staticGamma)} y2={L.mtY(-staticGamma)} stroke="#000" strokeWidth={1.5} />
          <path d={line(L.x, L.mtY)(staticMtPts) || ""} fill="none" stroke={RED} strokeWidth={2} />
        </Panel>

        {/* ===== (b) adaptive ===== */}
        <Panel id="cR1" x={R.x} y={R.rateY} yTicks={rateTicks} gridY={[500]} xLabelBaseline={R.xlab[0]} labelGap={R.gap}>
          {capacityLine(R)}
          <path d={line(R.x, R.rateY)(adaptiveRatePts) || ""} fill="none" stroke={RED} strokeWidth={1.2} />
          <path d={line(R.x, R.rateY)(adaptiveA) || ""} fill="none" stroke={BLUE} strokeWidth={1.1} />
        </Panel>
        <Panel id="cR2" x={R.x} y={R.rttY} yTicks={rttTicks} gridY={[100, 300]} xLabelBaseline={R.xlab[1]} labelGap={R.gap} labelSquash={0.8}>
          {rttDots(R, adaptiveRtt, "rr")}
        </Panel>
        <Panel id="cR3" x={R.x} y={R.lossY} yTicks={lossTicks} gridY={[50]} xLabelBaseline={R.xlab[2]} labelGap={R.gap}>
          <path d={line(R.x, R.lossY)(spikePoints(adaptiveLossSpikes, 0, 300)) || ""} fill="none" stroke={RED} strokeWidth={1.5} />
        </Panel>
        <Panel id="cR4" x={R.x} y={R.mtY} yTicks={mtTicks} gridY={[-1, 1]} xLabelBaseline={R.xlab[3]} labelGap={R.gap}>
          <path d={line(R.x, R.mtY)(adaptiveGamma) || ""} fill="none" stroke="#000" strokeWidth={2} />
          <path d={line(R.x, R.mtY)(adaptiveGamma.map(([t, v]) => [t, -v] as Pt)) || ""} fill="none" stroke="#000" strokeWidth={2} />
          <path d={line(R.x, R.mtY)(adaptiveMt) || ""} fill="none" stroke={RED} strokeWidth={1.4} />
        </Panel>

        {/* ===== y labels ===== */}
        <YLabel x={22} y={67} text="kbps" />
        <YLabel x={35} y={191} text="ms" />
        <YLabel x={34} y={267} text="%" />
        <YLabel x={53} y={392} text="ms" />
        <YLabel x={706} y={66} text="kbps" />
        <YLabel x={721.5} y={190} text="ms" />
        <YLabel x={721} y={267} text="%" />
        <YLabel x={740} y={399} text="ms" />

        {/* ===== legends (a) ===== */}
        <g>
          <rect x={348} y={88.3} width={295} height={45} fill="#fff" stroke="#000" strokeWidth={1} />
          <line x1={358} x2={380} y1={110} y2={110} stroke={RED} strokeWidth={1.5} />
          <text x={383} y={117} fontFamily={SERIF} fontSize={21}>GCC rate</text>
          <line x1={465} x2={493} y1={110} y2={110} stroke={BLUE} strokeWidth={1.5} />
          <text x={495} y={117} fontFamily={SERIF} fontSize={21}>A</text>
          <line x1={515} x2={533} y1={110} y2={110} stroke="#000" strokeWidth={1.5} strokeDasharray="5,7" />
          <text x={535} y={116} fontFamily={SERIF} fontSize={18.5}>link capacity</text>
        </g>
        <g>
          <rect x={601.7} y={172.3} width={58.3} height={28.4} fill="#fff" stroke="#000" strokeWidth={1} />
          <circle cx={606} cy={186.7} r={1.8} fill={RED} />
          <text x={610} y={194} fontFamily={SANS} fontSize={21.5}>RTT</text>
        </g>
        <g>
          <rect x={496.7} y={252.3} width={162.6} height={24.4} fill="#fff" stroke="#000" strokeWidth={1} />
          <line x1={501.7} x2={526.7} y1={265} y2={265} stroke={RED} strokeWidth={1} />
          <text x={527} y={273.5} fontFamily={SANS} fontSize={22}>fraction loss</text>
        </g>
        <g>
          <rect x={193.3} y={337.3} width={451.7} height={33.4} fill="#fff" stroke="#000" strokeWidth={1} />
          <line x1={205} x2={233.3} y1={354} y2={354} stroke={RED} strokeWidth={3} />
          <text x={238} y={361} fontFamily={SERIF} fontSize={22}>m(t): estimated delay variation</text>
          <line x1={535} x2={551.7} y1={354} y2={354} stroke="#000" strokeWidth={3} />
          <text x={555} y={361} fontFamily={SERIF} fontSize={28}>γ</text>
          <line x1={575} x2={596.7} y1={354} y2={354} stroke="#000" strokeWidth={3} />
          <text x={607} y={361} fontFamily={SERIF} fontSize={28}>-γ</text>
        </g>

        {/* ===== legends (b) ===== */}
        <g>
          <rect x={1041.7} y={85} width={295.3} height={38.3} fill="#fff" stroke="#000" strokeWidth={1} />
          <line x1={1051.7} x2={1071.7} y1={105} y2={105} stroke={RED} strokeWidth={1.5} />
          <text x={1073} y={112} fontFamily={SERIF} fontSize={21}>GCC rate</text>
          <line x1={1165} x2={1183.3} y1={105} y2={105} stroke={BLUE} strokeWidth={1.5} />
          <text x={1185} y={112} fontFamily={SERIF} fontSize={21}>A</text>
          <line x1={1210} x2={1228} y1={105} y2={105} stroke="#000" strokeWidth={1.5} strokeDasharray="5,7" />
          <text x={1230} y={111} fontFamily={SERIF} fontSize={18.5}>link capacity</text>
        </g>
        <g>
          <rect x={1283.3} y={169.3} width={60} height={29.7} fill="#fff" stroke="#000" strokeWidth={1} />
          <circle cx={1288.3} cy={184} r={1.8} fill={RED} />
          <text x={1292} y={191.5} fontFamily={SANS} fontSize={21.5}>RTT</text>
        </g>
        <g>
          <rect x={1182.7} y={252.3} width={162.3} height={25} fill="#fff" stroke="#000" strokeWidth={1} />
          <line x1={1186.7} x2={1211.7} y1={265.5} y2={265.5} stroke={RED} strokeWidth={1} />
          <text x={1213} y={274} fontFamily={SANS} fontSize={22}>fraction loss</text>
        </g>
        <g>
          <rect x={889.3} y={336} width={454} height={33.3} fill="#fff" stroke="#000" strokeWidth={1} />
          <line x1={900} x2={928.3} y1={352.7} y2={352.7} stroke={RED} strokeWidth={3} />
          <text x={935} y={359.5} fontFamily={SERIF} fontSize={22}>m(t): estimated delay variation</text>
          <line x1={1233.3} x2={1250} y1={352.7} y2={352.7} stroke="#000" strokeWidth={3} />
          <text x={1259} y={360} fontFamily={SERIF} fontSize={28}>γ</text>
          <line x1={1276} x2={1297} y1={352.7} y2={352.7} stroke="#000" strokeWidth={3} />
          <text x={1306} y={360} fontFamily={SERIF} fontSize={28}>-γ</text>
        </g>

        {/* ===== axis titles & captions ===== */}
        <text x={(xL(0) + xL(300)) / 2} y={507} textAnchor="middle" fontFamily={SANS} fontSize={21.5}>Time(s)</text>
        <text x={(xR(0) + xR(300)) / 2} y={507} textAnchor="middle" fontFamily={SANS} fontSize={21.5}>Time(s)</text>
        <text x={344} y={542} textAnchor="middle" fontFamily={SERIF} fontSize={21}>(a) Static threshold</text>
        <text x={1029} y={542} textAnchor="middle" fontFamily={SERIF} fontSize={21}>(b) Adaptive threshold</text>
      </svg>
    </div>
  );
}
